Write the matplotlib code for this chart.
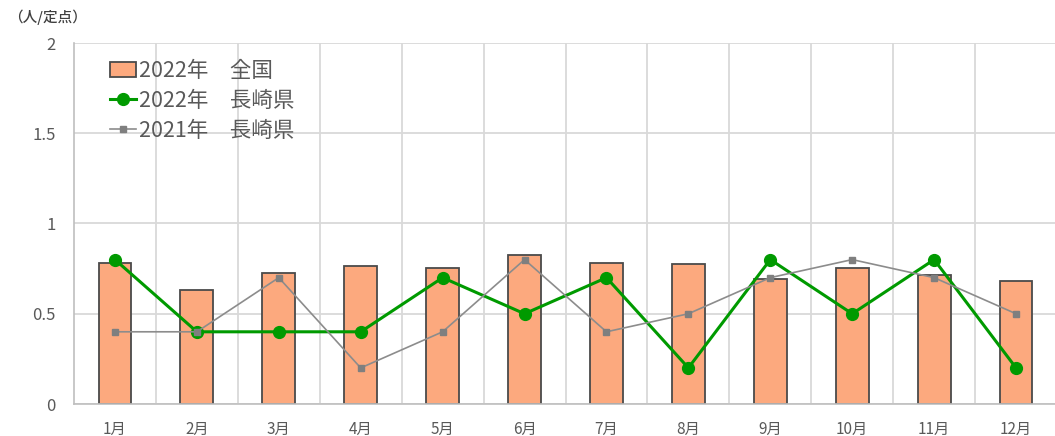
import matplotlib
matplotlib.use("Agg")
import matplotlib.pyplot as plt
from matplotlib.lines import Line2D
from matplotlib.patches import Patch

plt.rcParams['font.family'] = ['Noto Sans CJK JP', 'DejaVu Sans']

months = ["1月", "2月", "3月", "4月", "5月", "6月", "7月", "8月", "9月", "10月", "11月", "12月"]
national_2022 = [0.78, 0.63, 0.725, 0.765, 0.755, 0.825, 0.78, 0.775, 0.69, 0.755, 0.715, 0.68]
nagasaki_2022 = [0.8, 0.4, 0.4, 0.4, 0.7, 0.5, 0.7, 0.2, 0.8, 0.5, 0.8, 0.2]
nagasaki_2021 = [0.4, 0.4, 0.7, 0.2, 0.4, 0.8, 0.4, 0.5, 0.7, 0.8, 0.7, 0.5]
y_ticks = [0, 0.5, 1, 1.5, 2]
y_tick_labels = ["0", "0.5", "1", "1.5", "2"]
series_labels = ["2022年\u3000全国", "2022年\u3000長崎県", "2021年\u3000長崎県"]
unit_label = "（人/定点）"

W, H = 1055, 436
fig = plt.figure(figsize=(W / 100, H / 100), dpi=100)
ax = fig.add_axes([74 / W, (H - 404) / H, 983 / W, 361 / H])

x = list(range(len(months)))
bar_color = "#FCA97E"
green = "#009A00"
gray = "#8C8C8C"
text_color = "#595959"
grid_color = "#D9D9D9"

ax.bar(x, national_2022, width=0.4, color=bar_color, edgecolor="#4A4A4A",
       linewidth=1.3, zorder=2)
ax.plot(x, nagasaki_2022, color=green, lw=2.2, marker="o", markersize=8.5,
        zorder=3)
ax.plot(x, nagasaki_2021, color=gray, lw=1.2, marker="s", markersize=4,
        markerfacecolor="#7F7F7F", markeredgecolor="#7F7F7F", zorder=4)

ax.set_xlim(-0.5, len(months) - 0.5)
ax.set_ylim(0, 2)
ax.set_yticks(y_ticks)
ax.set_yticklabels(y_tick_labels)
ax.set_xticks(x)
ax.set_xticklabels(months)
ax.set_xticks([i + 0.5 for i in x[:-1]] + [-0.5 + len(months)], minor=True)

ax.grid(axis="y", which="major", color=grid_color, lw=1.3, zorder=0)
ax.grid(axis="x", which="minor", color=grid_color, lw=1.3, zorder=0)
ax.grid(axis="x", which="major", visible=False)
ax.set_axisbelow(True)

ax.tick_params(axis="both", which="both", length=0)
ax.tick_params(axis="y", pad=13, labelsize=12, labelcolor=text_color)
ax.tick_params(axis="x", pad=12, labelsize=11, labelcolor=text_color)

for side in ["top", "right"]:
    ax.spines[side].set_visible(False)
for side in ["left", "bottom"]:
    ax.spines[side].set_color("#BFBFBF")
    ax.spines[side].set_linewidth(1.2)

handles = [
    Patch(facecolor=bar_color, edgecolor="#4A4A4A", linewidth=1.3),
    Line2D([], [], color=green, lw=2.2, marker="o", markersize=8.5),
    Line2D([], [], color=gray, lw=1.2, marker="s", markersize=4,
           markerfacecolor="#7F7F7F", markeredgecolor="#7F7F7F"),
]
leg = ax.legend(handles, series_labels, loc="upper left",
                bbox_to_anchor=(36 / 983, 1 - 17 / 361), frameon=False,
                fontsize=15.5, handlelength=1.2, handletextpad=0.15,
                labelspacing=0.36, borderaxespad=0, borderpad=0)
for t in leg.get_texts():
    t.set_color(text_color)

fig.text(8 / W, 1 - 17 / H, unit_label, fontsize=10.5, color="#404040",
         va="center", ha="left", fontweight="medium")

fig.savefig("out.png", dpi=100)
